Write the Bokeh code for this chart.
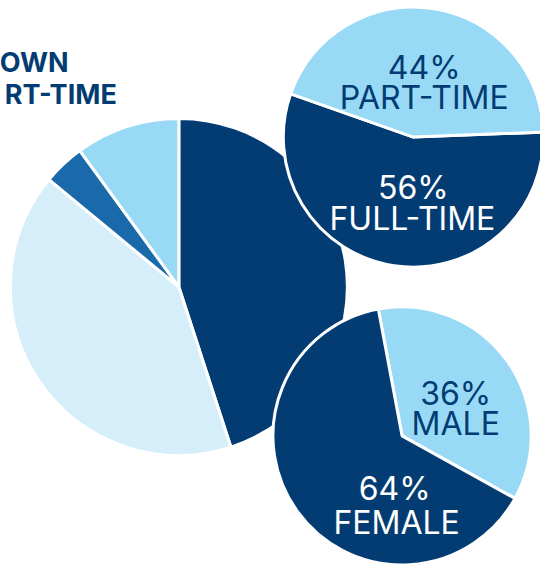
import math
from bokeh.plotting import figure
from bokeh.models import Range1d
from bokeh.embed import file_html
from bokeh.resources import INLINE
from bokeh.core.properties import value

# ---------------- data ----------------
main_categories = ["Segment A", "Segment B", "Segment C", "Segment D"]
main_values = [45, 41, 4, 10]

hours_categories = ["FULL-TIME", "PART-TIME"]
hours_values = [56, 44]

gender_categories = ["MALE", "FEMALE"]
gender_values = [36, 64]

title_lines = ["OWN", "RT-TIME"]

# ---------------- styles ----------------
NAVY = "#033C73"
PALE = "#D6EEFA"
MID = "#1A6AAB"
LIGHT = "#98D9F6"
main_colors = [NAVY, PALE, MID, LIGHT]
hours_colors = [NAVY, LIGHT]
gender_colors = [LIGHT, NAVY]
FONT = "Inter"

# the plot shows the full 548x574 reference frame, slightly scaled to fit the page
RW, RH = 548, 574
W, H = 540, 566
p = figure(width=W, height=H, output_backend="svg", toolbar_location=None,
           x_range=Range1d(0, RW), y_range=Range1d(0, RH), min_border=0)
p.axis.visible = False
p.grid.visible = False
p.outline_line_color = None
p.background_fill_color = "white"
p.border_fill_color = "white"


def Y(ry):
    return RH - ry


def pie(cx, cy, r, values, colors, start_cw, lw):
    total = float(sum(values))
    acc = start_cw
    starts, ends = [], []
    for v in values:
        a0 = acc
        a1 = acc + v / total * 360.0
        acc = a1
        starts.append(math.radians(90 - a0))
        ends.append(math.radians(90 - a1))
    p.wedge(x=cx, y=Y(cy), radius=r, start_angle=starts, end_angle=ends,
            direction="clock", fill_color=colors, line_color="white",
            line_width=lw)


# big pie
pie(181, 290.5, 171, main_values, main_colors, 0.0, 3)
# hours pie (top right)
pie(419, 138.5, 132, hours_values, hours_colors, 87.8, 3)
# gender pie (bottom right)
pie(407.5, 441.5, 131, gender_values, gender_colors, -10.6, 3)


def label(rx, ry, txt, color, size="32px", weight="normal", align="center"):
    p.text(x=[rx], y=[Y(ry)], text=[txt], text_color=color,
           text_font=value(FONT), text_font_size=size,
           text_font_style=weight, text_align=align,
           text_baseline="alphabetic")


# hours labels
label(430, 68, f"{hours_values[1]}%", NAVY)
label(430, 98, hours_categories[1], NAVY)
label(419, 190, f"{hours_values[0]}%", "white")
label(418, 221, hours_categories[0], "white")

# gender labels
label(462, 399, f"{gender_values[0]}%", NAVY)
label(462, 429, gender_categories[0], NAVY)
label(400, 495, f"{gender_values[1]}%", "white")
label(402, 529, gender_categories[1], "white")

# title (cut off at the left in the source)
label(69, 63, title_lines[0], NAVY, size="27px", weight="bold", align="right")
label(118, 95, title_lines[1], NAVY, size="27px", weight="bold", align="right")

open("out.html", "w").write(file_html(p, INLINE))
